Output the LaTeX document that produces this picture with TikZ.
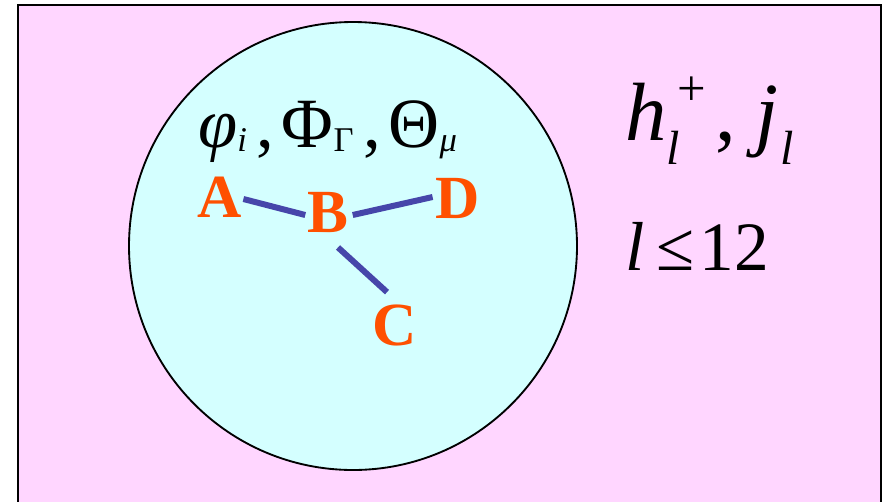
\documentclass[tikz,border=0pt]{standalone}
\usepackage{fontspec}
\setmainfont{Liberation Serif}
\usepackage{tikz}

\definecolor{boxpink}{RGB}{255,214,255}
\definecolor{ballcyan}{RGB}{212,255,255}
\definecolor{atomred}{RGB}{255,80,0}
\definecolor{bondblue}{RGB}{70,70,170}

\newcommand{\bigfont}{\fontsize{53}{57}\selectfont}
\newcommand{\lowsub}[1]{\raisebox{-0.06em}{\fontsize{26}{28}\selectfont #1}}
\newcommand{\harmsub}[1]{\raisebox{-0.3em}{\fontsize{36}{38}\selectfont #1}}

\tikzset{
  atom/.style={text=atomred,font=\fontsize{46}{50}\selectfont\bfseries,inner sep=3pt},
  bond/.style={draw=bondblue,line width=4.5pt}
}

\begin{document}
\begin{tikzpicture}[x=0.75pt,y=-0.75pt]
\useasboundingbox (0,0) rectangle (890,501);
\clip (0,0) rectangle (890,501);
% outer box and the cluster
\draw[fill=boxpink,line width=1.5pt] (18,5) rectangle (881,520);
\draw[fill=ballcyan,line width=1.4pt] (353,246) circle [radius=168pt];
% fields inside
\node[anchor=base west,inner sep=0] (fields) at (198,147)
  {\bigfont\itshape φ\lowsub{i}\kern7pt\upshape,\kern6pt Φ\lowsub{Γ}\kern7pt,\kern6pt Θ\lowsub{\itshape μ}};
% atoms
\node[atom] (A) at (220,197) {A};
\node[atom] (B) at (328,213) {B};
\node[atom] (D) at (458,198) {D};
\node[atom] (C) at (395,325) {C};
\draw[bond] ([shift={(-3,2)}]A.east) -- ([shift={(2,2)}]B.west);
\draw[bond] ([shift={(0,2)}]B.east) -- ([shift={(1,-1)}]D.west);
\draw[bond] ([shift={(10,10)}]B.south) -- ([shift={(-8,-8)}]C.north);
% outside
\node[anchor=base west,inner sep=0] (harm) at (625,140)
  {\fontsize{62}{66}\selectfont\itshape h\rlap{\harmsub{l}}\kern8pt\raisebox{0.42em}{\fontsize{38}{40}\selectfont\upshape +}\kern7pt\upshape,\kern15pt\itshape j\kern1pt\harmsub{l}};
\node[anchor=base west,inner sep=0] (cut) at (625,270)
  {\fontsize{52}{56}\selectfont\itshape l\upshape\kern9pt≤\kern4pt12};
\end{tikzpicture}
\end{document}
